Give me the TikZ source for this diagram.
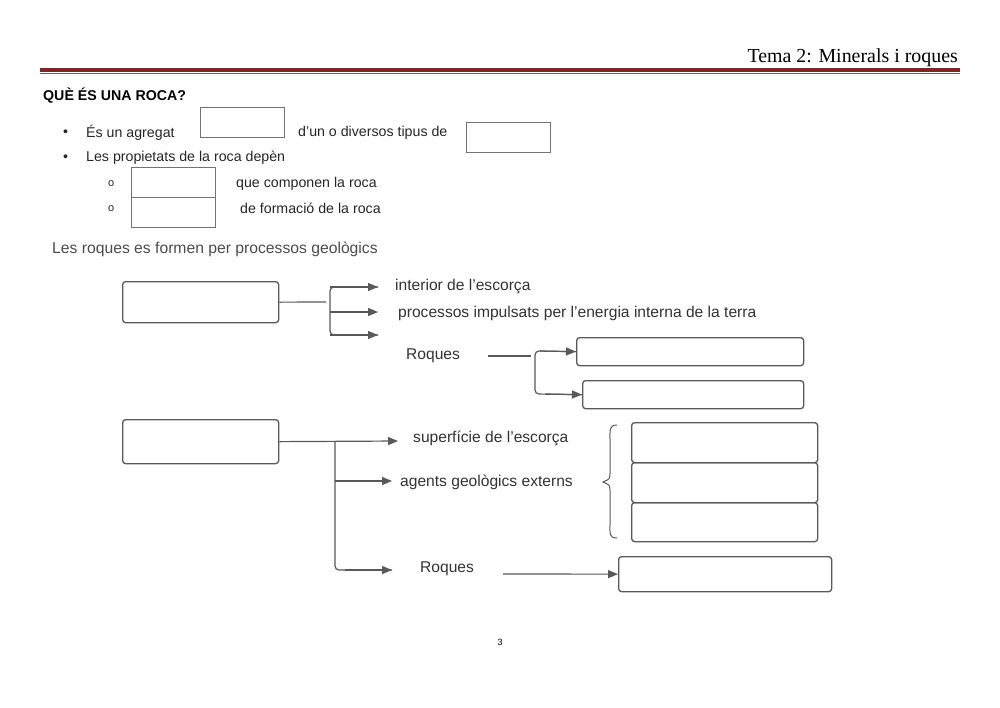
\documentclass[tikz,border=0pt]{standalone}
\usepackage{fontspec}
\setmainfont{Liberation Sans}
\newfontfamily\hdr{Liberation Serif}
\usetikzlibrary{arrows.meta}
\begin{document}
\begin{tikzpicture}[x=1pt,y=-1pt,
  txt/.style={anchor=west,inner sep=0pt,font=\fontsize{14.2}{14}\selectfont,text=black!85},
  dtxt/.style={anchor=west,inner sep=0pt,font=\fontsize{15.6}{15}\selectfont,text=black!80},
  gtxt/.style={anchor=west,inner sep=0pt,font=\fontsize{15.7}{15}\selectfont,text=black!70},
  rbox/.style={draw=black!65,line width=1.3pt,rounded corners=3pt,minimum width=#1,minimum height=28pt,inner sep=0pt},
  sbox/.style={draw=black!55,line width=0.5pt,inner sep=0pt,minimum width=84pt,minimum height=30pt},
  conn/.style={draw=black!65,line width=1.2pt},
  arr/.style={conn,-{Triangle[length=10pt,width=8pt]}},
  brc/.style={conn,rounded corners=4pt}]
\useasboundingbox (0,0) rectangle (1000,707);
\fill[white] (0,0) rectangle (1000,707);
% header
\node[anchor=base east,inner sep=0pt,font=\hdr\fontsize{19.9}{20}\selectfont] (hd) at (958,62) {Tema 2: Minerals i roques};
\fill[red!40!black!85] (40,68) rectangle (960,71.5);
\draw[red!40!black!70,line width=0.6pt] (40,73.5) -- (960,73.5);
% section
\node[anchor=west,inner sep=0pt,font=\bfseries\fontsize{14.2}{14}\selectfont] (q) at (43,96) {QUÈ ÉS UNA ROCA?};
\node[txt] (b1) at (63,133) {\textbullet};
\node[txt] (t1) at (86,133) {És un agregat};
\node[sbox,anchor=north west] (s1) at (200,107) {};
\node[txt] (t2) at (298,133) {d'un o diversos tipus de};
\node[sbox,anchor=north west] (s2) at (466,122) {};
\node[txt] (b2) at (63,158) {\textbullet};
\node[txt] (t3) at (86,158) {Les propietats de la roca depèn};
\node[txt,font=\fontsize{11}{11}\selectfont] (o1) at (108,184) {o};
\node[sbox,anchor=north west] (s3) at (131,167) {};
\node[txt] (t4) at (236,184) {que componen la roca};
\node[txt,font=\fontsize{11}{11}\selectfont] (o2) at (108,209) {o};
\node[sbox,anchor=north west] (s4) at (131,197) {};
\node[txt] (t5) at (240,208) {de formació de la roca};
\node[gtxt] (t6) at (52,249) {Les roques es formen per processos geològics};
% diagram 1
\node[rbox=156pt,minimum height=41pt,anchor=north west] (A) at (122,281) {};
\draw[conn] (A.east) -- (326,302);
\draw[brc] (378,287) -- (330,287) -- (330,335) -- (378,335);
\draw[arr] (330,287) -- (378,287);
\draw[arr] (330,312) -- (378,312);
\draw[arr] (330,335) -- (378,335);
\node[dtxt] (i1) at (395,286) {interior de l'escorça};
\node[dtxt] (i2) at (398,313) {processos impulsats per l'energia interna de la terra};
\node[dtxt] (r1) at (406,356) {Roques};
\node[rbox=227pt,anchor=north west] (B1) at (576,337) {};
\node[rbox=221pt,anchor=north west] (B2) at (582,380) {};
\draw[conn] (488,356) -- (531,356);
\draw[brc] (B1.west) -- (535,351) -- (535,394) -- (B2.west);
\draw[arr] (540,351) -- (B1.west);
\draw[arr] (545,394) -- (B2.west);
% diagram 2
\node[rbox=156pt,minimum height=44pt,anchor=north west] (C) at (122,419) {};
\node[dtxt] (s1t) at (413,438) {superfície de l'escorça};
\node[dtxt] (s2t) at (400,482) {agents geològics externs};
\node[dtxt] (r2) at (420,569) {Roques};
\draw[arr] (C.east) -- (398,441);
\draw[brc] (335,441) -- (335,570) -- (392,570);
\draw[arr] (345,570) -- (392,570);
\draw[arr] (335,481) -- (392,481);
\node[rbox=213pt,minimum height=35pt,anchor=north west] (D) at (618,556) {};
\draw[arr] (503,574) -- (D.west);
\node[rbox=186pt,minimum height=40pt,anchor=north west] (E1) at (631,422) {};
\node[rbox=186pt,minimum height=40pt,anchor=north west] (E2) at (631,462) {};
\node[rbox=186pt,minimum height=39pt,anchor=north west] (E3) at (631,502) {};
\draw[conn,line width=1pt] (617,425) .. controls (609,425) and (610,430) .. (610,440) -- (610,472) .. controls (610,479) .. (603,482) .. controls (610,485) .. (610,492) -- (610,524) .. controls (610,534) and (609,538) .. (617,538);
% page number
\node[inner sep=0pt,font=\fontsize{9}{9}\selectfont] (pg) at (500,642) {3};
\end{tikzpicture}
\end{document}
